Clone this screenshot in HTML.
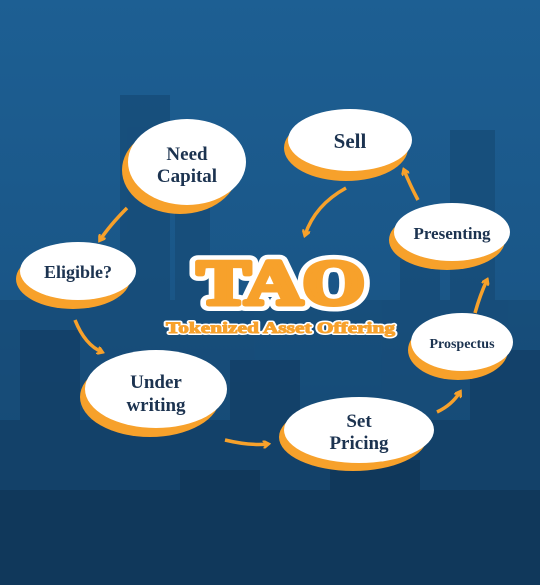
<!DOCTYPE html>
<html><head><meta charset="utf-8"><style>
html,body{margin:0;padding:0;width:540px;height:585px;overflow:hidden;background:#1b5a8c}
svg{display:block}
.lbl{font-family:"Liberation Serif",serif;font-weight:bold;fill:#1c3350;text-anchor:middle}
</style></head><body>
<svg width="540" height="585" viewBox="0 0 540 585">
<defs>
<linearGradient id="bg" x1="0" y1="0" x2="0" y2="1">
<stop offset="0" stop-color="#1d5f93"/><stop offset="0.5" stop-color="#1a5687"/><stop offset="1" stop-color="#123f66"/>
</linearGradient>
<marker id="ah" markerWidth="8" markerHeight="8" refX="5" refY="4" orient="auto" markerUnits="userSpaceOnUse"><path d="M0,0 L6,4 L0,8" fill="none" stroke="#f7a12b" stroke-width="2.5"/></marker>
</defs>
<rect width="540" height="585" fill="url(#bg)"/>
<g fill="#174c78" opacity="0.8">
<rect x="120" y="95" width="50" height="490"/><rect x="175" y="170" width="35" height="415"/>
<rect x="450" y="130" width="45" height="455"/><rect x="400" y="260" width="40" height="325"/>
<rect x="0" y="300" width="540" height="285"/>
</g>
<g fill="#133f66" opacity="0.8">
<rect x="0" y="420" width="540" height="165"/>
<rect x="20" y="330" width="60" height="100"/><rect x="230" y="360" width="70" height="80"/><rect x="470" y="350" width="70" height="90"/>
</g>
<g fill="#0f3556" opacity="0.7"><rect x="0" y="490" width="540" height="95"/><rect x="180" y="470" width="80" height="30"/><rect x="330" y="460" width="90" height="40"/></g>

<g fill="none" stroke="#f7a12b" stroke-width="3.5" marker-end="url(#ah)">
<path d="M127,208 Q110,225 100,240"/>
<path d="M75,320 Q85,345 102,352"/>
<path d="M225,440 Q250,446 268,444"/>
<path d="M437,412 Q452,405 460,392"/>
<path d="M475,313 Q480,295 487,280"/>
<path d="M418,200 Q410,185 404,170"/>
<path d="M346,188 Q315,205 305,235"/>
</g>

<g>
<ellipse cx="180" cy="170" rx="58" ry="44" fill="#f7a12b"/><ellipse cx="187" cy="162" rx="59" ry="43" fill="#fff"/>
<text class="lbl" x="187" y="160" font-size="19">Need</text><text class="lbl" x="187" y="182" font-size="19">Capital</text></g>
<g>
<ellipse cx="346" cy="148" rx="62" ry="33" fill="#f7a12b"/><ellipse cx="350" cy="140" rx="62" ry="31" fill="#fff"/>
<text class="lbl" x="350" y="148" font-size="21">Sell</text></g>
<g>
<ellipse cx="73" cy="279" rx="57" ry="30" fill="#f7a12b"/><ellipse cx="78" cy="271" rx="58" ry="29" fill="#fff"/>
<text class="lbl" x="78" y="278" font-size="18">Eligible?</text></g>
<g>
<ellipse cx="447" cy="240" rx="58" ry="30" fill="#f7a12b"/><ellipse cx="452" cy="232" rx="58" ry="29" fill="#fff"/>
<text class="lbl" x="452" y="239" font-size="17">Presenting</text></g>
<g>
<ellipse cx="458" cy="350" rx="50" ry="30" fill="#f7a12b"/><ellipse cx="462" cy="342" rx="51" ry="29" fill="#fff"/>
<text class="lbl" x="462" y="348" font-size="14">Prospectus</text></g>
<g>
<ellipse cx="150" cy="397" rx="70" ry="40" fill="#f7a12b"/><ellipse cx="156" cy="389" rx="71" ry="39" fill="#fff"/>
<text class="lbl" x="156" y="388" font-size="19">Under</text><text class="lbl" x="156" y="411" font-size="19">writing</text></g>
<g>
<ellipse cx="353" cy="437" rx="74" ry="34" fill="#f7a12b"/><ellipse cx="359" cy="430" rx="75" ry="33" fill="#fff"/>
<text class="lbl" x="359" y="427" font-size="19">Set</text><text class="lbl" x="359" y="449" font-size="19">Pricing</text></g>

<g font-family="Liberation Serif,serif" font-weight="bold" font-size="64">
<text x="197" y="304" textLength="168" lengthAdjust="spacingAndGlyphs" fill="#fff" stroke="#fff" stroke-width="14" stroke-linejoin="round">TAO</text>
<text x="197" y="304" textLength="168" lengthAdjust="spacingAndGlyphs" fill="#f7a12b" stroke="#f7a12b" stroke-width="5" stroke-linejoin="round">TAO</text>
</g>
<g font-family="Liberation Serif,serif" font-weight="bold" font-size="16">
<text x="166" y="333" textLength="229" lengthAdjust="spacingAndGlyphs" fill="#fff" stroke="#fff" stroke-width="4" stroke-linejoin="round">Tokenized Asset Offering</text>
<text x="166" y="333" textLength="229" lengthAdjust="spacingAndGlyphs" fill="#f7a12b" stroke="#f7a12b" stroke-width="1">Tokenized Asset Offering</text>
</g>
</svg>
</body></html>
